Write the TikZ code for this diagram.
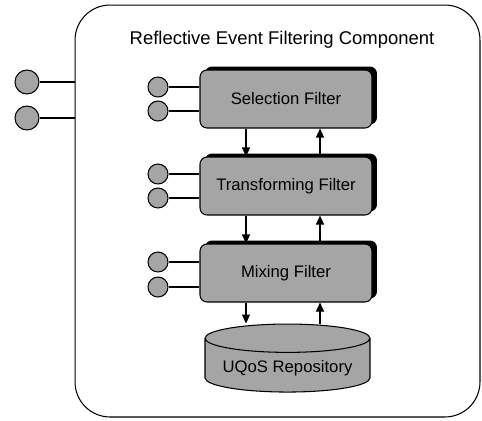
\documentclass[tikz,border=0pt]{standalone}
\usepackage{fontspec}
\setmainfont{Liberation Sans}
\usepackage{tikz}
\usetikzlibrary{shapes.geometric, shadows, arrows.meta}
\definecolor{stipplegray}{RGB}{165,165,165}

\begin{document}
\begin{tikzpicture}[x=0.02cm, y=-0.02cm, line width=0.6pt, >={Triangle[length=1.8mm, width=1.6mm]},
  filter/.style={draw, rectangle, rounded corners=4pt, fill=stipplegray, minimum width=3.44cm, minimum height=1.16cm,
    font=\fontsize{9.5}{11}\selectfont, general shadow={shadow xshift=0.1cm, shadow yshift=0.07cm, fill=black}},
  port/.style={draw, circle, fill=stipplegray, minimum size=0.4cm, inner sep=0pt},
  bigport/.style={port, minimum size=0.48cm}]
\useasboundingbox (0,0) rectangle (482,420);
\node[draw, rectangle, rounded corners=0.7cm, minimum width=8.1cm, minimum height=8.24cm] (frame) at (277.5,211) {};
\node[font=\fontsize{10.5}{12}\selectfont] (title) at (282,40) {Reflective Event Filtering Component};
% component ports
\node[bigport] (compA) at (27,82) {};
\node[bigport] (compB) at (27,118) {};
\draw (compA) -- (compA -| frame.west);
\draw (compB) -- (compB -| frame.west);
% filters
\node[filter] (sel) at (286,99) {Selection Filter};
\node[filter] (trans) at (286,186) {Transforming Filter};
\node[filter] (mix) at (286,273) {Mixing Filter};
\node[draw, cylinder, shape border rotate=90, aspect=0.2, fill=stipplegray, minimum width=3.3cm, minimum height=1.36cm,
  font=\fontsize{9.5}{11}\selectfont] (repo) at (287.5,368) {UQoS Repository};
% filter ports
\node[port] (selA) at (158,87) {};
\node[port] (selB) at (158,111) {};
\node[port] (transA) at (158,174) {};
\node[port] (transB) at (158,198) {};
\node[port] (mixA) at (158,262) {};
\node[port] (mixB) at (158,287) {};
\draw (selA) -- (selA -| sel.west);
\draw (selB) -- (selB -| sel.west);
\draw (transA) -- (transA -| trans.west);
\draw (transB) -- (transB -| trans.west);
\draw (mixA) -- (mixA -| mix.west);
\draw (mixB) -- (mixB -| mix.west);
% data flow
\draw[->] (sel.south -| 246,0) -- (trans.north -| 246,0);
\draw[->] (trans.north -| 320,0) -- (sel.south -| 320,0);
\draw[->] (trans.south -| 246,0) -- (mix.north -| 246,0);
\draw[->] (mix.north -| 320,0) -- (trans.south -| 320,0);
\draw[->] (mix.south -| 246,0) -- (repo.north -| 246,0);
\draw[->] (repo.north -| 320,0) -- (mix.south -| 320,0);
\end{tikzpicture}
\end{document}
